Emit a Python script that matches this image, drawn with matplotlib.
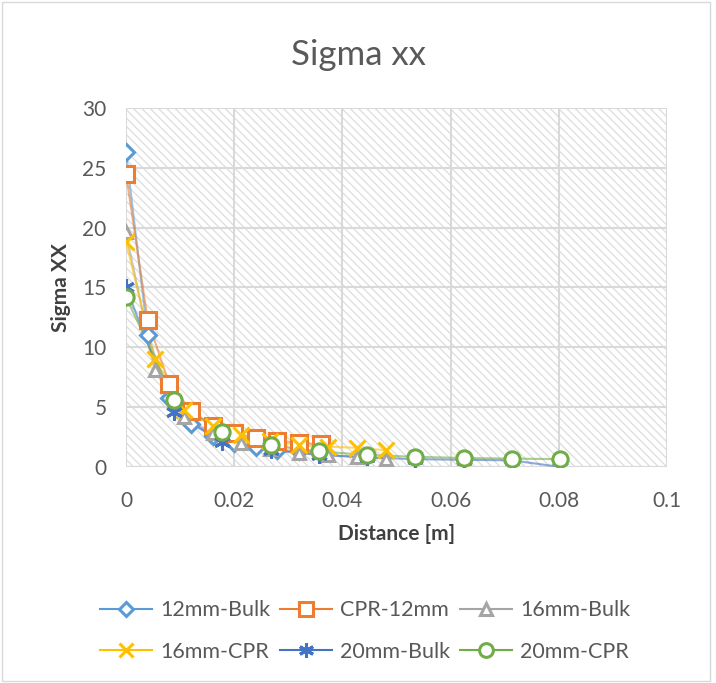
import matplotlib
matplotlib.use('Agg')
from matplotlib import pyplot as plt
from matplotlib.patches import Rectangle
import numpy as np

plt.rcParams['font.family'] = ['Lato', 'DejaVu Sans']
plt.rcParams['hatch.color'] = '#DDDDDD'
plt.rcParams['hatch.linewidth'] = 0.9

# шаги по расстоянию для каждой серии
x12 = [0, 0.004, 0.008, 0.012, 0.016, 0.020, 0.024, 0.028, 0.032, 0.036]
x16 = [0, 0.0053, 0.0107, 0.016, 0.0213, 0.0267, 0.032, 0.0373, 0.0427, 0.048]
x20 = [0, 0.0089, 0.0178, 0.0268, 0.0357, 0.0446, 0.0535, 0.0624, 0.0714, 0.0803]

bulk12 = [26.3, 11.0, 5.8, 3.6, 2.6, 2.0, 1.7, 1.45, 1.3, 1.2]
cpr12 = [24.5, 12.3, 6.9, 4.7, 3.4, 2.8, 2.4, 2.2, 2.0, 1.9]
bulk16 = [19.6, 8.1, 4.2, 2.8, 2.0, 1.5, 1.2, 1.0, 0.85, 0.7]
cpr16 = [18.8, 9.0, 4.8, 3.4, 2.7, 2.2, 1.8, 1.7, 1.6, 1.4]
bulk20 = [15.0, 4.6, 2.1, 1.4, 1.0, 0.8, 0.65, 0.6, 0.55, 0.0]
cpr20 = [14.2, 5.6, 2.9, 1.8, 1.3, 1.0, 0.85, 0.75, 0.7, 0.65]

series = [
    ('12mm-Bulk', x12, bulk12, '#5B9BD5', 'D', 8),
    ('CPR-12mm', x12, cpr12, '#ED7D31', 's', 11),
    ('16mm-Bulk', x16, bulk16, '#A5A5A5', '^', 9),
    ('16mm-CPR', x16, cpr16, '#FFC000', 'x', 11),
    ('20mm-Bulk', x20, bulk20, '#4472C4', (6, 2, 0), 12),
    ('20mm-CPR', x20, cpr20, '#70AD47', 'o', 11),
]

fig = plt.figure(figsize=(7.16, 6.83), dpi=100)
ax = fig.add_axes([0.176, 0.3163, 0.7556, 0.5256])

# штриховка фона
ax.add_patch(Rectangle((0, 0), 1, 1, transform=ax.transAxes, facecolor='white',
                       edgecolor='#DDDDDD', hatch='\\\\\\\\', linewidth=0, zorder=0))

ax.grid(color='#D9D9D9', linewidth=1.5, zorder=1)
ax.set_axisbelow(True)

for name, xs, ys, c, m, ms in series:
    ax.plot(xs, ys, color=c, linewidth=1.5, alpha=0.6, zorder=2)
    ax.plot(xs, ys, linestyle='none', marker=m, markersize=ms, markeredgewidth=2.2,
            markeredgecolor=c, markerfacecolor='white' if m != 'x' else c, zorder=3)

handles = []
for name, xs, ys, c, m, ms in series:
    h, = ax.plot([], [], color=c, linewidth=1.5, marker=m, markersize=ms * 0.9,
                 markeredgewidth=2.2, markeredgecolor=c, markerfacecolor='white')
    handles.append(h)
labels = [s[0] for s in series]

# легенда по строкам, как в Excel
order = [0, 3, 1, 4, 2, 5]

ax.set_xlim(0, 0.1)
ax.set_ylim(0, 30)
ax.set_xticks([0, 0.02, 0.04, 0.06, 0.08, 0.1])
ax.set_xticklabels(['0', '0.02', '0.04', '0.06', '0.08', '0.1'])
ax.set_yticks(range(0, 31, 5))
ax.tick_params(axis='x', length=0, labelsize=15, labelcolor='#595959', pad=17)
ax.tick_params(axis='y', length=0, labelsize=15, labelcolor='#595959', pad=14)
for s in ax.spines.values():
    s.set_visible(False)
ax.axhline(0, color='#D9D9D9', linewidth=1.5, zorder=1)

fig.text(0.5, 0.919, 'Sigma xx', fontsize=25, color='#595959', ha='center', va='center')
ax.set_xlabel('Distance [m]', fontsize=15, fontweight='bold', color='#404040', labelpad=10)
ax.set_ylabel('Sigma XX', fontsize=15, fontweight='bold', color='#404040', labelpad=8)

fig.legend([handles[i] for i in order], [labels[i] for i in order], ncol=3, loc='center',
           bbox_to_anchor=(0.51, 0.076), frameon=False, fontsize=15.5,
           handlelength=2.4, columnspacing=0.45, labelspacing=1.0, handletextpad=0.4,
           labelcolor='#595959')

fig.add_artist(Rectangle((0.003, 0.003), 0.988, 0.994, transform=fig.transFigure,
                         fill=False, edgecolor='#D9D9D9', linewidth=1))

plt.savefig('out.png', dpi=100)
